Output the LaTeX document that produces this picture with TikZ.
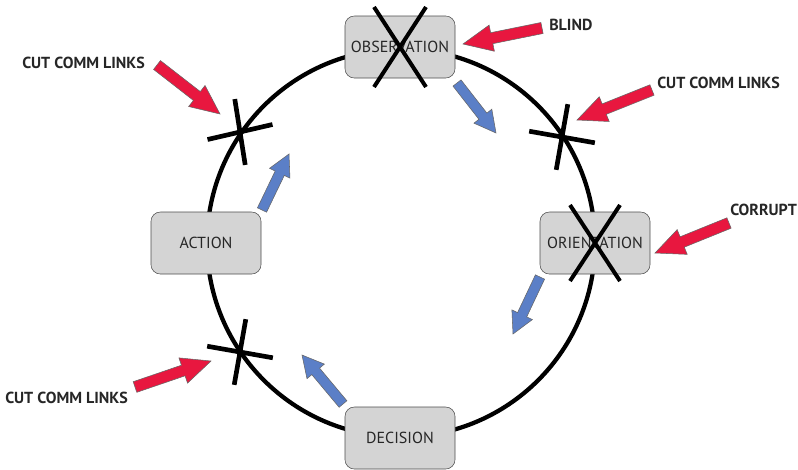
\documentclass[tikz,border=0pt]{standalone}
\usepackage{fontspec}
\setmainfont{PT Sans}
\usetikzlibrary{calc}

\definecolor{boxgray}{HTML}{D4D4D4}
\definecolor{alertred}{HTML}{E8173F}
\definecolor{flowblue}{HTML}{5B7FC7}

\tikzset{
	stage/.style={draw=black!70, fill=boxgray, rounded corners=7pt, minimum width=82.5pt, minimum height=46.5pt, inner sep=0pt, text=black!85, font=\fontsize{12}{14}\selectfont},
	tag/.style={anchor=west, inner sep=0pt, text=black!85, font=\bfseries\fontsize{12}{14}\selectfont},
	ring/.style={line width=3.2pt},
	cutmark/.style={line width=3.5pt},
	veto/.style={line width=3pt},
	redarrow/.style={fill=alertred, draw=black!60, line width=0.4pt},
	bluearrow/.style={fill=flowblue, draw=black!60, line width=0.4pt}
}

% style, tail, tip, half shaft, half head, head length
\newcommand{\fatarrow}[6]{%
	\coordinate (hb) at ($(#3)!#6!(#2)$);
	\filldraw[#1] ($(#2)!#4!90:(#3)$) -- ($(hb)!#4!90:(#3)$) -- ($(hb)!#5!90:(#3)$) -- (#3)
		-- ($(hb)!#5!-90:(#3)$) -- ($(hb)!#4!-90:(#3)$) -- ($(#2)!#4!-90:(#3)$) -- cycle;
}

% cross of two bars through a point
\newcommand{\cutcross}[3]{%
	\draw[cutmark] ($(#1)+(#2:25pt)$) -- ($(#1)+(#2+180:25pt)$);
	\draw[cutmark] ($(#1)+(#3:25pt)$) -- ($(#1)+(#3+180:25pt)$);
}

\begin{document}
\begin{tikzpicture}[x=0.75pt, y=-0.75pt]

	\useasboundingbox (0,0) rectangle (798,469);

	\coordinate (ctr) at (401,243);
	\draw[ring] (ctr) circle[radius=145.5pt];

	% the four stages
	\node[stage] (obs) at (400,47) {OBSERVATION};
	\node[stage] (ori) at (595,243) {ORIENTATION};
	\node[stage] (dec) at (400,438) {DECISION};
	\node[stage] (act) at (206,243) {ACTION};

	% struck out stages
	\draw[veto] ($(obs)+(-26,-40)$) -- ($(obs)+(26,40)$);
	\draw[veto] ($(obs)+(26,-40)$) -- ($(obs)+(-26,40)$);
	\draw[veto] ($(ori)+(-25,-38)$) -- ($(ori)+(25,38)$);
	\draw[veto] ($(ori)+(25,-38)$) -- ($(ori)+(-25,38)$);

	% cut links
	\coordinate (cuttl) at (240,132);
	\coordinate (cuttr) at (562,137);
	\coordinate (cutbl) at (240,352);
	\cutcross{cuttl}{13}{99}
	\cutcross{cuttr}{-10}{80}
	\cutcross{cutbl}{-10}{80}

	% flow
	\coordinate (f1a) at (457,83);  \coordinate (f1b) at (496,133);
	\coordinate (f2a) at (540,277); \coordinate (f2b) at (513,334);
	\coordinate (f3a) at (343,404); \coordinate (f3b) at (302,355);
	\coordinate (f4a) at (262,210); \coordinate (f4b) at (289,154);
	\fatarrow{bluearrow}{f1a}{f1b}{3.8pt}{8.5pt}{16pt}
	\fatarrow{bluearrow}{f2a}{f2b}{3.8pt}{8.5pt}{16pt}
	\fatarrow{bluearrow}{f3a}{f3b}{3.8pt}{8.5pt}{16pt}
	\fatarrow{bluearrow}{f4a}{f4b}{3.8pt}{8.5pt}{16pt}

	% attacks
	\node[tag] (blind) at (549,25) {BLIND};
	\node[tag] (cutr) at (657,83) {CUT COMM LINKS};
	\node[tag] (corrupt) at (730,210) {CORRUPT};
	\node[tag] (cutl) at (22,63) {CUT COMM LINKS};
	\node[tag] (cutb) at (5,398) {CUT COMM LINKS};

	\coordinate (r1a) at (542,28);  \coordinate (r1b) at (463,44);
	\coordinate (r2a) at (652,90);  \coordinate (r2b) at (577,120);
	\coordinate (r3a) at (729,223); \coordinate (r3b) at (655,253);
	\coordinate (r4a) at (157,65);  \coordinate (r4b) at (220,114);
	\coordinate (r5a) at (135,387); \coordinate (r5b) at (211,361);
	\fatarrow{redarrow}{r1a}{r1b}{4.2pt}{10pt}{22pt}
	\fatarrow{redarrow}{r2a}{r2b}{4.2pt}{10pt}{22pt}
	\fatarrow{redarrow}{r3a}{r3b}{4.2pt}{10pt}{22pt}
	\fatarrow{redarrow}{r4a}{r4b}{4.2pt}{10pt}{22pt}
	\fatarrow{redarrow}{r5a}{r5b}{4.2pt}{10pt}{22pt}

\end{tikzpicture}
\end{document}
